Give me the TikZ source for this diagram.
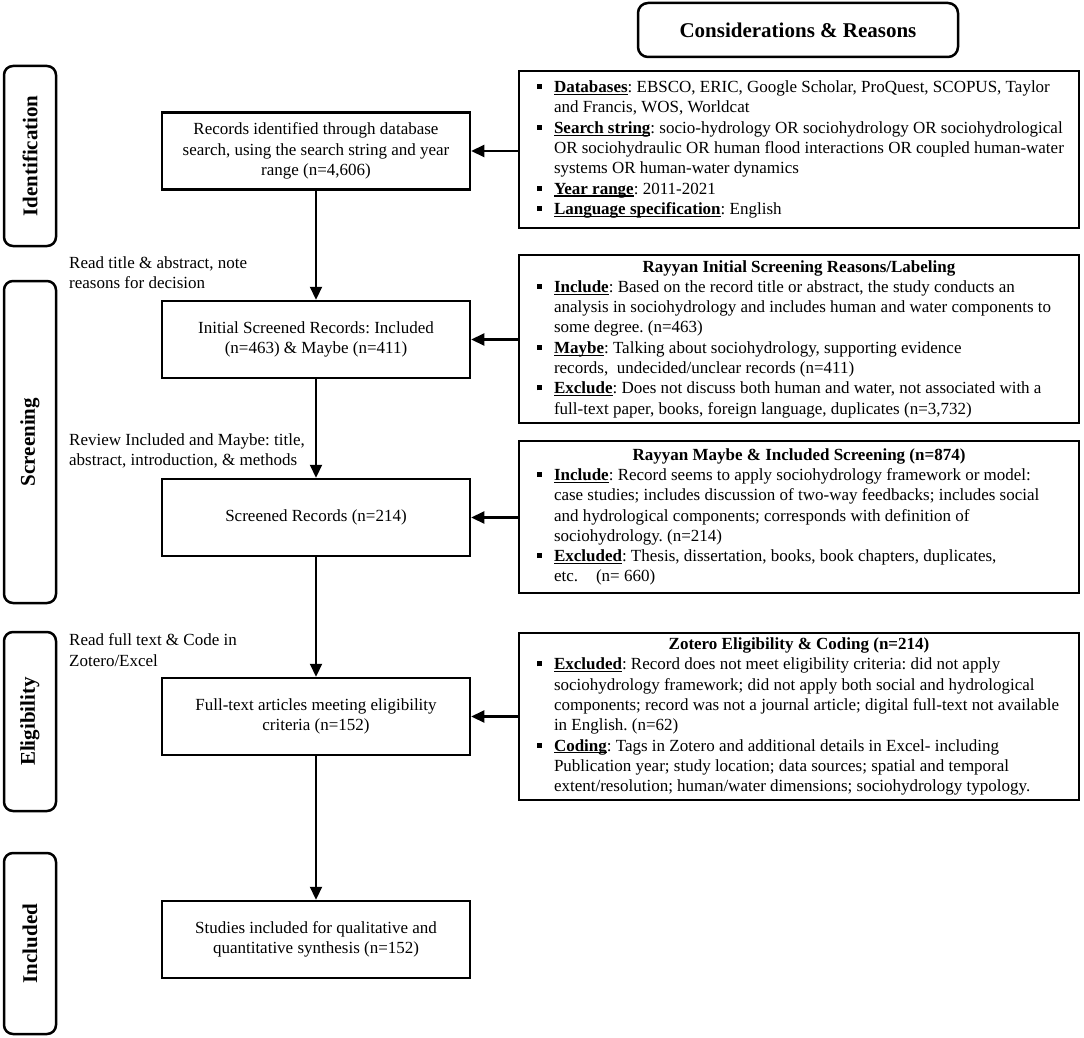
\documentclass[tikz,border=0pt]{standalone}
\usepackage{fontspec}
\setmainfont{Liberation Serif}
\usetikzlibrary{arrows.meta}
\frenchspacing
\newcommand{\sqb}{\makebox[45pt][l]{\hspace{28pt}\rule[3.5pt]{5pt}{5pt}}}
\newcommand{\myind}{\hspace*{45pt}}
\newcommand{\ulb}[1]{{\setbox0\hbox{\textbf{#1}}\rlap{\rule[-2.4pt]{\wd0}{1.1pt}}\box0}}
\newcommand{\rbtext}[1]{\makebox[540pt][c]{\begin{minipage}{580pt}\frenchspacing\fontsize{17pt}{20.3pt}\selectfont\raggedright #1\end{minipage}}}
\tikzset{
  rbox/.style={draw, line width=2.5pt, inner sep=0pt, minimum width=560pt},
  mbox/.style={draw, line width=2.5pt, inner sep=0pt, minimum width=308pt, minimum height=77pt, align=center, font=\fontsize{17pt}{20.3pt}\selectfont},
  phase/.style={draw, line width=2.5pt, rounded corners=9pt, minimum height=52pt, inner sep=0pt, rotate=90, font=\fontsize{21pt}{25pt}\selectfont\bfseries},
  arr/.style={line width=2.2pt, -{Triangle[length=13pt,width=12pt]}},
  note/.style={align=left, anchor=west, inner sep=0pt, font=\fontsize{17pt}{20.3pt}\selectfont},
}
\begin{document}
\begin{tikzpicture}[x=1pt,y=-1pt]
\useasboundingbox (0,0) rectangle (1084,1038);
\fill[white] (0,0) rectangle (1084,1038);

% title
\node[draw, line width=2.5pt, rounded corners=10pt, minimum width=320pt, minimum height=54pt, inner sep=0pt, font=\fontsize{21pt}{25pt}\selectfont\bfseries] (t) at (798,30) {Considerations \& Reasons};

% phases
\node[phase, minimum width=180pt] (p1) at (30,156) {Identification};
\node[phase, minimum width=322pt] (p2) at (30,442) {Screening};
\node[phase, minimum width=179pt] (p3) at (30,721.5) {Eligibility};
\node[phase, minimum width=181pt] (p4) at (30,943.5) {Included};

% main boxes
\node[mbox] (b1) at (316,151) {Records identified through database\\search, using the search string and year\\range (n=4,606)};
\node[mbox] (b2) at (316,339.5) {Initial Screened Records: Included\\(n=463) \& Maybe (n=411)};
\node[mbox] (b3) at (316,517.5) {Screened Records (n=214)};
\node[mbox] (b4) at (316,716.5) {Full-text articles meeting eligibility\\criteria (n=152)};
\node[mbox] (b5) at (316,939.5) {Studies included for qualitative and\\quantitative synthesis (n=152)};

% notes
\node[note] (a1) at (69,273) {Read title \& abstract, note\\reasons for decision};
\node[note] (a2) at (69,451) {Review Included and Maybe: title,\\abstract, introduction, \& methods};
\node[note] (a3) at (69,650) {Read full text \& Code in\\Zotero/Excel};

% right boxes
\node[rbox, minimum height=157pt] (r1) at (799,149.5) {\rbtext{%
\sqb\ulb{Databases}: EBSCO, ERIC, Google Scholar, ProQuest, SCOPUS, Taylor\\
\myind and Francis, WOS, Worldcat\\
\sqb\ulb{Search string}: socio-hydrology OR sociohydrology OR sociohydrological\\
\myind OR sociohydraulic OR human flood interactions OR coupled human-water\\
\myind systems OR human-water dynamics\\
\sqb\ulb{Year range}: 2011-2021\\
\sqb\ulb{Language specification}: English}};

\node[rbox, minimum height=168pt] (r2) at (799,339) {\rbtext{%
\centerline{\textbf{Rayyan Initial Screening Reasons/Labeling}}
\sqb\ulb{Include}: Based on the record title or abstract, the study conducts an\\
\myind analysis in sociohydrology and includes human and water components to\\
\myind some degree. (n=463)\\
\sqb\ulb{Maybe}: Talking about sociohydrology, supporting evidence\\
\myind records,\ \ undecided/unclear records (n=411)\\
\sqb\ulb{Exclude}: Does not discuss both human and water, not associated with a\\
\myind full-text paper, books, foreign language, duplicates (n=3,732)}};

\node[rbox, minimum height=152pt] (r3) at (799,517) {\rbtext{%
\centerline{\textbf{Rayyan Maybe \& Included Screening (n=874)}}
\sqb\ulb{Include}: Record seems to apply sociohydrology framework or model:\\
\myind case studies; includes discussion of two-way feedbacks; includes social\\
\myind and hydrological components; corresponds with definition of\\
\myind sociohydrology. (n=214)\\
\sqb\ulb{Excluded}: Thesis, dissertation, books, book chapters, duplicates,\\
\myind etc.\hspace{18pt}(n= 660)}};

\node[rbox, minimum height=167pt] (r4) at (799,716.5) {\rbtext{%
\centerline{\textbf{Zotero Eligibility \& Coding (n=214)}}
\sqb\ulb{Excluded}: Record does not meet eligibility criteria: did not apply\\
\myind sociohydrology framework; did not apply both social and hydrological\\
\myind components; record was not a journal article; digital full-text not available\\
\myind in English. (n=62)\\
\sqb\ulb{Coding}: Tags in Zotero and additional details in Excel- including\\
\myind Publication year; study location; data sources; spatial and temporal\\
\myind extent/resolution; human/water dimensions; sociohydrology typology.}};

% vertical arrows
\draw[arr] (b1.south) -- (b2.north);
\draw[arr] (b2.south) -- (b3.north);
\draw[arr] (b3.south) -- (b4.north);
\draw[arr] (b4.south) -- (b5.north);

% horizontal arrows
\draw[arr] (r1.west |- b1.east) -- (b1.east);
\draw[arr] (r2.west |- b2.east) -- (b2.east);
\draw[arr] (r3.west |- b3.east) -- (b3.east);
\draw[arr] (r4.west |- b4.east) -- (b4.east);
\end{tikzpicture}
\end{document}
